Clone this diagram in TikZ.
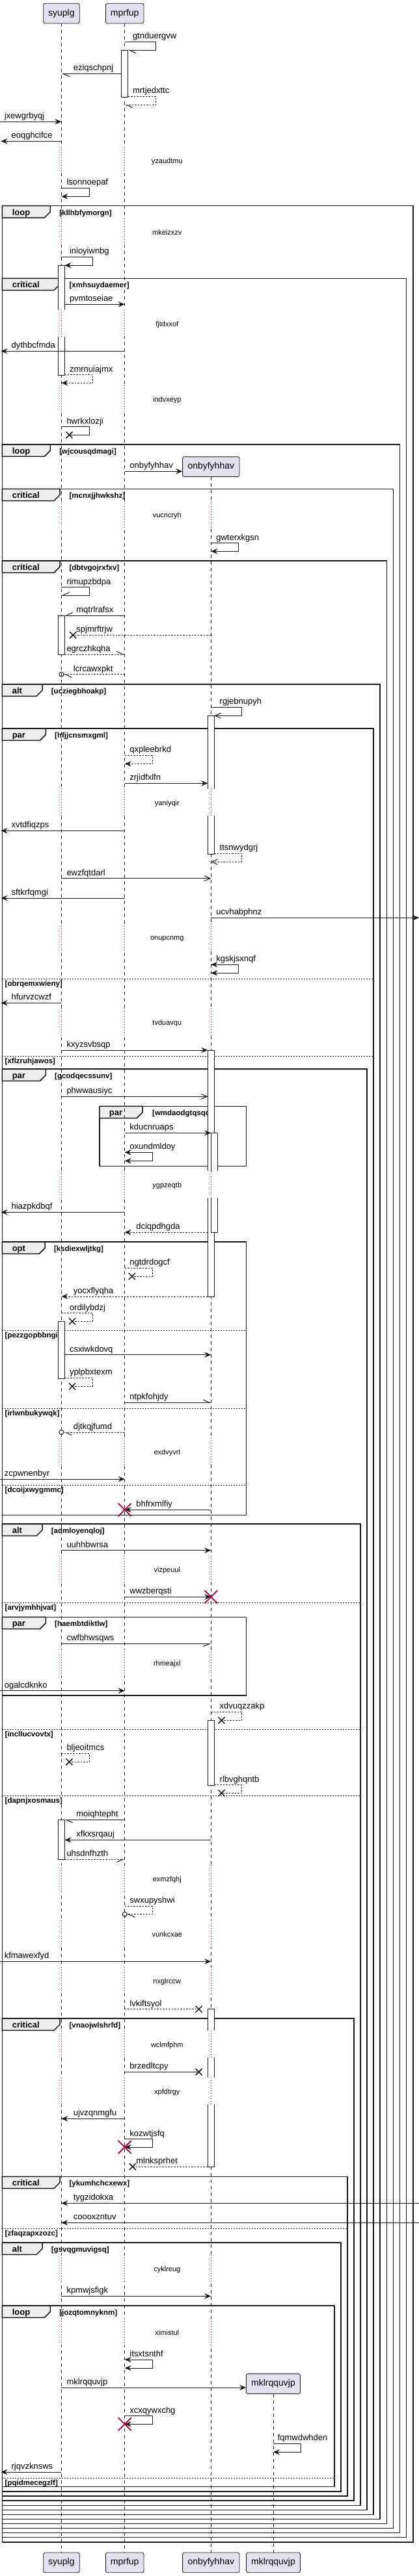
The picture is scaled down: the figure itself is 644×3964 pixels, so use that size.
\documentclass[tikz,border=0pt]{standalone}
\usepackage{fontspec}
\setmainfont{Liberation Sans}
\usetikzlibrary{arrows.meta}
\definecolor{dark}{HTML}{181818}
\definecolor{partfill}{HTML}{E2E2F0}
\definecolor{tabfill}{HTML}{EEEEEE}
\definecolor{delaycol}{HTML}{A80036}
\definecolor{killcol}{HTML}{A80036}
\begin{document}
\begin{tikzpicture}[x=1bp,y=-1bp,line join=miter,
  actor/.style={draw=dark,fill=partfill,line width=0.8bp,rounded corners=2.5bp,minimum height=30.7bp,inner sep=0pt,font=\fontsize{14bp}{16bp}\selectfont},
  lifeline/.style={draw=dark,line width=0.6bp,dash pattern=on 5bp off 5bp},
  delayline/.style={draw=delaycol,line width=0.9bp,dash pattern=on 1bp off 3bp},
  delaytxt/.style={anchor=base,inner sep=0pt,font=\fontsize{11bp}{13bp}\selectfont},
  grp/.style={draw=dark,line width=1.5bp},
  grptab/.style={draw=dark,fill=tabfill,line width=1.5bp},
  grpname/.style={anchor=base west,inner sep=0pt,font=\bfseries\fontsize{13bp}{15bp}\selectfont},
  grpcond/.style={anchor=base west,inner sep=0pt,font=\bfseries\fontsize{11.5bp}{13bp}\selectfont},
  sep/.style={draw=dark,line width=1bp,dash pattern=on 2bp off 2bp},
  act/.style={draw=dark,fill=white,line width=1bp},
  msg/.style={draw=dark,line width=1bp},
  ret/.style={msg,dash pattern=on 2.5bp off 2bp},
  lbl/.style={anchor=base west,inner sep=0pt,font=\fontsize{13bp}{15bp}\selectfont},
  tipfill/.style={-{Stealth[length=10bp,width=8.5bp,inset=3.5bp]}},
  tipopen/.style={-{Straight Barb[length=9bp,width=8bp]}},
  tipboth/.style={arrows={Stealth[length=10bp,width=8.5bp,inset=3.5bp]-Stealth[length=10bp,width=8.5bp,inset=3.5bp]}},
  harpA/.style={-{Straight Barb[harpoon,length=10bp,width=9bp]}},
  harpB/.style={-{Straight Barb[harpoon,swap,length=10bp,width=9bp]}},
  cross/.style={draw=dark,line width=1.5bp},
  destroy/.style={draw=killcol,line width=1.8bp},
]
\useasboundingbox (0,0) rectangle (644,3964);
%% participants
\node (p_syuplg) at (94.4,20.7) [actor,minimum width=55.5bp] {syuplg};
\node (p_mprfup) at (191.7,20.7) [actor,minimum width=58.4bp] {mprfup};
\node (p_onby) at (324.3,718.2) [actor,minimum width=87.4bp] {onbyfyhhav};
\node (p_mklr) at (420,3668.2) [actor,minimum width=82.9bp] {mklrqquvjp};
\node (q_syuplg) at (94.4,3943.3) [actor,minimum width=55.5bp] {syuplg};
\node (q_mprfup) at (191.7,3943.3) [actor,minimum width=58.4bp] {mprfup};
\node (q_onby) at (324.3,3943.3) [actor,minimum width=87.4bp] {onbyfyhhav};
\node (q_mklr) at (420,3943.3) [actor,minimum width=82.9bp] {mklrqquvjp};
\coordinate (s_r) at (99.4,0);
\coordinate (s_c) at (97.9,0);
\coordinate (m_l) at (186.7,0);
\coordinate (m_r) at (196.7,0);
\coordinate (m_c) at (195.2,0);
\coordinate (o_l) at (319.3,0);
\coordinate (o_r) at (329.3,0);
\coordinate (edge_w0) at (0,0);
\coordinate (edge_w) at (1.5,0);
\coordinate (edge_e) at (644,0);
%% groups
\draw [grp] (3.3,316.7) rectangle (634.9,3911.7);
\draw [grptab] (3.3,316.7) -- (77.4,316.7) -- (77.4,326) -- (68.4,335) -- (3.3,335) -- cycle;
\node (g_kllhbfymorgn) at (18.6,331) [grpname] {loop};
\node (c_kllhbfymorgn) at (91.1,331) [grpcond] {[kllhbfymorgn]};
\draw [grp] (3.3,428.3) rectangle (624.5,3904.3);
\draw [grptab] (3.3,428.3) -- (92,428.3) -- (92,437.6) -- (83,446.6) -- (3.3,446.6) -- cycle;
\node (g_xmhsuydaemer) at (18.6,442.6) [grpname] {critical};
\node (c_xmhsuydaemer) at (106.4,442.6) [grpcond] {[xmhsuydaemer]};
\draw [grp] (3.3,684) rectangle (614.6,3897.3);
\draw [grptab] (3.3,684) -- (77.4,684) -- (77.4,693.3) -- (68.4,702.3) -- (3.3,702.3) -- cycle;
\node (g_wjcousqdmagi) at (18.6,698.3) [grpname] {loop};
\node (c_wjcousqdmagi) at (91.1,698.3) [grpcond] {[wjcousqdmagi]};
\draw [grp] (3.3,752.3) rectangle (604.6,3890.3);
\draw [grptab] (3.3,752.3) -- (92,752.3) -- (92,761.6) -- (83,770.6) -- (3.3,770.6) -- cycle;
\node (g_mcnxjjhwkshz) at (18.6,766.6) [grpname] {critical};
\node (c_mcnxjjhwkshz) at (106.4,766.6) [grpcond] {[mcnxjjhwkshz]};
\draw [grp] (3.3,863) rectangle (594.3,3883.3);
\draw [grptab] (3.3,863) -- (92,863) -- (92,872.3) -- (83,881.3) -- (3.3,881.3) -- cycle;
\node (g_dbtvgojrxfxv) at (18.6,877.3) [grpname] {critical};
\node (c_dbtvgojrxfxv) at (106.4,877.3) [grpcond] {[dbtvgojrxfxv]};
\draw [grp] (3.3,1053) rectangle (584,3876.3);
\draw [grptab] (3.3,1053) -- (65,1053) -- (65,1062.3) -- (56,1071.3) -- (3.3,1071.3) -- cycle;
\node (g_ucziegbhoakp) at (18.6,1067.3) [grpname] {alt};
\node (c_ucziegbhoakp) at (78.7,1067.3) [grpcond] {[ucziegbhoakp]};
\draw [grp] (3.3,1121) rectangle (574,3869.3);
\draw [grptab] (3.3,1121) -- (70.4,1121) -- (70.4,1130.3) -- (61.4,1139.3) -- (3.3,1139.3) -- cycle;
\node (g_hfjjcnsmxgml) at (18.6,1135.3) [grpname] {par};
\node (c_hfjjcnsmxgml) at (84,1135.3) [grpcond] {[hfjjcnsmxgml]};
\draw [sep] (3.3,1506.3) -- (574,1506.3);
\node (e_obrqemxwieny) at (7.5,1517.3) [grpcond] {[obrqemxwieny]};
\draw [sep] (3.3,1625) -- (574,1625);
\node (e_xflzruhjawos) at (7.5,1636) [grpcond] {[xflzruhjawos]};
\draw [grp] (3.3,1645) rectangle (564,3862.3);
\draw [grptab] (3.3,1645) -- (70.4,1645) -- (70.4,1654.3) -- (61.4,1663.3) -- (3.3,1663.3) -- cycle;
\node (g_gcodqecssunv) at (18.6,1659.3) [grpname] {par};
\node (c_gcodqecssunv) at (84,1659.3) [grpcond] {[gcodqecssunv]};
\draw [grp] (152.8,1702.3) rectangle (378.5,1794.3);
\draw [grptab] (152.8,1702.3) -- (219.1,1702.3) -- (219.1,1711.6) -- (210.1,1720.6) -- (152.8,1720.6) -- cycle;
\node (g_wmdaodgtqsqq) at (167.7,1716.6) [grpname] {par};
\node (c_wmdaodgtqsqq) at (234,1716.6) [grpcond] {[wmdaodgtqsqq]};
\draw [grp] (3.3,1911) rectangle (378.5,2331.3);
\draw [grptab] (3.3,1911) -- (69.2,1911) -- (69.2,1920.3) -- (60.2,1929.3) -- (3.3,1929.3) -- cycle;
\node (g_ksdiexwljtkg) at (18.6,1925.3) [grpname] {opt};
\node (c_ksdiexwljtkg) at (82.8,1925.3) [grpcond] {[ksdiexwljtkg]};
\draw [sep] (3.3,2047.3) -- (378.5,2047.3);
\node (e_pezzgopbbngi) at (7.5,2058.3) [grpcond] {[pezzgopbbngi]};
\draw [sep] (3.3,2167.3) -- (378.5,2167.3);
\node (e_irlwnbukywqk) at (7.5,2178.3) [grpcond] {[irlwnbukywqk]};
\draw [sep] (3.3,2285) -- (378.5,2285);
\node (e_dcoijxwygmmc) at (7.5,2296) [grpcond] {[dcoijxwygmmc]};
\draw [grp] (3.3,2345) rectangle (554.1,3855.3);
\draw [grptab] (3.3,2345) -- (65,2345) -- (65,2354.3) -- (56,2363.3) -- (3.3,2363.3) -- cycle;
\node (g_admloyenqloj) at (18.6,2359.3) [grpname] {alt};
\node (c_admloyenqloj) at (78.7,2359.3) [grpcond] {[admloyenqloj]};
\draw [sep] (3.3,2466) -- (554.1,2466);
\node (e_arvjymhhjvat) at (7.5,2477) [grpcond] {[arvjymhhjvat]};
\draw [grp] (3.3,2488.3) rectangle (378.5,2609);
\draw [grptab] (3.3,2488.3) -- (70.4,2488.3) -- (70.4,2497.6) -- (61.4,2506.6) -- (3.3,2506.6) -- cycle;
\node (g_haembtdiktlw) at (18.6,2502.6) [grpname] {par};
\node (c_haembtdiktlw) at (84,2502.6) [grpcond] {[haembtdiktlw]};
\draw [sep] (3.3,2661.3) -- (554.1,2661.3);
\node (e_incllucvovtx) at (7.5,2672.3) [grpcond] {[incllucvovtx]};
\draw [sep] (3.3,2763.3) -- (554.1,2763.3);
\node (e_dapnjxosmaus) at (7.5,2774.3) [grpcond] {[dapnjxosmaus]};
\draw [grp] (3.3,3106) rectangle (543.8,3848);
\draw [grptab] (3.3,3106) -- (92,3106) -- (92,3115.3) -- (83,3124.3) -- (3.3,3124.3) -- cycle;
\node (g_vnaojwlshrfd) at (18.6,3120.3) [grpname] {critical};
\node (c_vnaojwlshrfd) at (106.4,3120.3) [grpcond] {[vnaojwlshrfd]};
\draw [grp] (3.3,3349.3) rectangle (533.8,3841);
\draw [grptab] (3.3,3349.3) -- (92,3349.3) -- (92,3358.6) -- (83,3367.6) -- (3.3,3367.6) -- cycle;
\node (g_ykumhchcxewx) at (18.6,3363.6) [grpname] {critical};
\node (c_ykumhchcxewx) at (106.4,3363.6) [grpcond] {[ykumhchcxewx]};
\draw [sep] (3.3,3429) -- (533.8,3429);
\node (e_zfaqzapxzozc) at (7.5,3440) [grpcond] {[zfaqzapxzozc]};
\draw [grp] (3.3,3451) rectangle (523.9,3834);
\draw [grptab] (3.3,3451) -- (65,3451) -- (65,3460.3) -- (56,3469.3) -- (3.3,3469.3) -- cycle;
\node (g_gsvqgmuvigsq) at (18.6,3465.3) [grpname] {alt};
\node (c_gsvqgmuvigsq) at (78.7,3465.3) [grpcond] {[gsvqgmuvigsq]};
\draw [grp] (3.3,3548) rectangle (514,3826.7);
\draw [grptab] (3.3,3548) -- (77.4,3548) -- (77.4,3557.3) -- (68.4,3566.3) -- (3.3,3566.3) -- cycle;
\node (g_jozqtomnyknm) at (18.6,3562.3) [grpname] {loop};
\node (c_jozqtomnyknm) at (91.1,3562.3) [grpcond] {[jozqtomnyknm]};
\draw [sep] (3.3,3813.3) -- (514,3813.3);
\node (e_pqidmecegzlf) at (7.5,3824.3) [grpcond] {[pqidmecegzlf]};
%% lifelines
\draw [lifeline] (p_syuplg) -- (q_syuplg);
\draw [lifeline] (p_mprfup) -- (q_mprfup);
\draw [lifeline] (p_onby) -- (q_onby);
\draw [lifeline] (p_mklr) -- (q_mklr);
%% activations
\draw [act] (186.7,77.3) rectangle (196.7,149.3);
\draw [act] (89.4,408.3) rectangle (99.4,577.3);
\draw [act] (89.4,947) rectangle (99.4,1007);
\draw [act] (319.3,1101.3) rectangle (329.3,1314);
\draw [act] (319.3,1616) rectangle (329.3,1995);
\draw [act] (324.3,1743.3) rectangle (334.3,1896.3);
\draw [act] (89.4,2033.3) rectangle (99.4,2121.3);
\draw [act] (319.3,2647.3) rectangle (329.3,2747.3);
\draw [act] (89.4,2800.3) rectangle (99.4,2861);
\draw [act] (319.3,3091.7) rectangle (329.3,3334);
%% delays
\fill [white] (87,225.8) rectangle (102,267.3) (184,225.8) rectangle (199,267.3);
\draw [delayline] (p_syuplg |- 0,225.8) -- (p_syuplg |- 0,267.3) (p_mprfup |- 0,225.8) -- (p_mprfup |- 0,267.3);
\node (d_yzaudtmu) at (256.8,251.3) [delaytxt] {yzaudtmu};
\fill [white] (87,335.8) rectangle (102,377.3) (184,335.8) rectangle (199,377.3);
\draw [delayline] (p_syuplg |- 0,335.8) -- (p_syuplg |- 0,377.3) (p_mprfup |- 0,335.8) -- (p_mprfup |- 0,377.3);
\node (d_mkeizxzv) at (256.8,361.3) [delaytxt] {mkeizxzv};
\fill [white] (87,476.5) rectangle (102,518) (184,476.5) rectangle (199,518);
\draw [delayline] (p_syuplg |- 0,476.5) -- (p_syuplg |- 0,518) (p_mprfup |- 0,476.5) -- (p_mprfup |- 0,518);
\node (d_fjtdxxof) at (256.8,502) [delaytxt] {fjtdxxof};
\fill [white] (87,592.8) rectangle (102,634.3) (184,592.8) rectangle (199,634.3);
\draw [delayline] (p_syuplg |- 0,592.8) -- (p_syuplg |- 0,634.3) (p_mprfup |- 0,592.8) -- (p_mprfup |- 0,634.3);
\node (d_indvxeyp) at (256.8,618.3) [delaytxt] {indvxeyp};
\fill [white] (87,770.8) rectangle (102,812.3) (184,770.8) rectangle (199,812.3) (316,770.8) rectangle (337,812.3);
\draw [delayline] (p_syuplg |- 0,770.8) -- (p_syuplg |- 0,812.3) (p_mprfup |- 0,770.8) -- (p_mprfup |- 0,812.3) (p_onby |- 0,770.8) -- (p_onby |- 0,812.3);
\node (d_vucncryh) at (256.8,796.3) [delaytxt] {vucncryh};
\fill [white] (87,1213.8) rectangle (102,1255.3) (184,1213.8) rectangle (199,1255.3) (316,1213.8) rectangle (337,1255.3);
\draw [delayline] (p_syuplg |- 0,1213.8) -- (p_syuplg |- 0,1255.3) (p_mprfup |- 0,1213.8) -- (p_mprfup |- 0,1255.3) (p_onby |- 0,1213.8) -- (p_onby |- 0,1255.3);
\node (d_yaniyqir) at (256.8,1239.3) [delaytxt] {yaniyqir};
\fill [white] (87,1420.8) rectangle (102,1462.3) (184,1420.8) rectangle (199,1462.3) (316,1420.8) rectangle (337,1462.3);
\draw [delayline] (p_syuplg |- 0,1420.8) -- (p_syuplg |- 0,1462.3) (p_mprfup |- 0,1420.8) -- (p_mprfup |- 0,1462.3) (p_onby |- 0,1420.8) -- (p_onby |- 0,1462.3);
\node (d_onupcnmg) at (256.8,1446.3) [delaytxt] {onupcnmg};
\fill [white] (87,1551.8) rectangle (102,1593.3) (184,1551.8) rectangle (199,1593.3) (316,1551.8) rectangle (337,1593.3);
\draw [delayline] (p_syuplg |- 0,1551.8) -- (p_syuplg |- 0,1593.3) (p_mprfup |- 0,1551.8) -- (p_mprfup |- 0,1593.3) (p_onby |- 0,1551.8) -- (p_onby |- 0,1593.3);
\node (d_tvduavqu) at (256.8,1577.3) [delaytxt] {tvduavqu};
\fill [white] (87,1801.8) rectangle (102,1843.3) (184,1801.8) rectangle (199,1843.3) (316,1801.8) rectangle (337,1843.3);
\draw [delayline] (p_syuplg |- 0,1801.8) -- (p_syuplg |- 0,1843.3) (p_mprfup |- 0,1801.8) -- (p_mprfup |- 0,1843.3) (p_onby |- 0,1801.8) -- (p_onby |- 0,1843.3);
\node (d_ygpzeqtb) at (256.8,1827.3) [delaytxt] {ygpzeqtb};
\fill [white] (87,2212.8) rectangle (102,2254.3) (184,2212.8) rectangle (199,2254.3) (316,2212.8) rectangle (337,2254.3);
\draw [delayline] (p_syuplg |- 0,2212.8) -- (p_syuplg |- 0,2254.3) (p_mprfup |- 0,2212.8) -- (p_mprfup |- 0,2254.3) (p_onby |- 0,2212.8) -- (p_onby |- 0,2254.3);
\node (d_exdvyvrl) at (256.8,2238.3) [delaytxt] {exdvyvrl};
\fill [white] (87,2393.8) rectangle (102,2435.3) (184,2393.8) rectangle (199,2435.3) (316,2393.8) rectangle (337,2435.3);
\draw [delayline] (p_syuplg |- 0,2393.8) -- (p_syuplg |- 0,2435.3) (p_mprfup |- 0,2393.8) -- (p_mprfup |- 0,2435.3) (p_onby |- 0,2393.8) -- (p_onby |- 0,2435.3);
\node (d_vizpeuul) at (256.8,2419.3) [delaytxt] {vizpeuul};
\fill [white] (87,2537.8) rectangle (102,2579.3) (184,2537.8) rectangle (199,2579.3) (316,2537.8) rectangle (337,2579.3);
\draw [delayline] (p_syuplg |- 0,2537.8) -- (p_syuplg |- 0,2579.3) (p_mprfup |- 0,2537.8) -- (p_mprfup |- 0,2579.3) (p_onby |- 0,2537.8) -- (p_onby |- 0,2579.3);
\node (d_rhmeajxl) at (256.8,2563.3) [delaytxt] {rhmeajxl};
\fill [white] (87,2869.8) rectangle (102,2911.3) (184,2869.8) rectangle (199,2911.3) (316,2869.8) rectangle (337,2911.3);
\draw [delayline] (p_syuplg |- 0,2869.8) -- (p_syuplg |- 0,2911.3) (p_mprfup |- 0,2869.8) -- (p_mprfup |- 0,2911.3) (p_onby |- 0,2869.8) -- (p_onby |- 0,2911.3);
\node (d_exmzfqhj) at (256.8,2895.3) [delaytxt] {exmzfqhj};
\fill [white] (87,2954.8) rectangle (102,2996.3) (184,2954.8) rectangle (199,2996.3) (316,2954.8) rectangle (337,2996.3);
\draw [delayline] (p_syuplg |- 0,2954.8) -- (p_syuplg |- 0,2996.3) (p_mprfup |- 0,2954.8) -- (p_mprfup |- 0,2996.3) (p_onby |- 0,2954.8) -- (p_onby |- 0,2996.3);
\node (d_vunkcxae) at (256.8,2980.3) [delaytxt] {vunkcxae};
\fill [white] (87,3026.8) rectangle (102,3068.3) (184,3026.8) rectangle (199,3068.3) (316,3026.8) rectangle (337,3068.3);
\draw [delayline] (p_syuplg |- 0,3026.8) -- (p_syuplg |- 0,3068.3) (p_mprfup |- 0,3026.8) -- (p_mprfup |- 0,3068.3) (p_onby |- 0,3026.8) -- (p_onby |- 0,3068.3);
\node (d_nxglrccw) at (256.8,3052.3) [delaytxt] {nxglrccw};
\fill [white] (87,3124.5) rectangle (102,3166) (184,3124.5) rectangle (199,3166) (316,3124.5) rectangle (337,3166);
\draw [delayline] (p_syuplg |- 0,3124.5) -- (p_syuplg |- 0,3166) (p_mprfup |- 0,3124.5) -- (p_mprfup |- 0,3166) (p_onby |- 0,3124.5) -- (p_onby |- 0,3166);
\node (d_wclmfphm) at (256.8,3150) [delaytxt] {wclmfphm};
\fill [white] (87,3196.8) rectangle (102,3238.3) (184,3196.8) rectangle (199,3238.3) (316,3196.8) rectangle (337,3238.3);
\draw [delayline] (p_syuplg |- 0,3196.8) -- (p_syuplg |- 0,3238.3) (p_mprfup |- 0,3196.8) -- (p_mprfup |- 0,3238.3) (p_onby |- 0,3196.8) -- (p_onby |- 0,3238.3);
\node (d_xpfdtrgy) at (256.8,3222.3) [delaytxt] {xpfdtrgy};
\fill [white] (87,3469.8) rectangle (102,3511.3) (184,3469.8) rectangle (199,3511.3) (316,3469.8) rectangle (337,3511.3);
\draw [delayline] (p_syuplg |- 0,3469.8) -- (p_syuplg |- 0,3511.3) (p_mprfup |- 0,3469.8) -- (p_mprfup |- 0,3511.3) (p_onby |- 0,3469.8) -- (p_onby |- 0,3511.3);
\node (d_cyklreug) at (256.8,3495.3) [delaytxt] {cyklreug};
\fill [white] (87,3567.5) rectangle (102,3609) (184,3567.5) rectangle (199,3609) (316,3567.5) rectangle (337,3609);
\draw [delayline] (p_syuplg |- 0,3567.5) -- (p_syuplg |- 0,3609) (p_mprfup |- 0,3567.5) -- (p_mprfup |- 0,3609) (p_onby |- 0,3567.5) -- (p_onby |- 0,3609);
\node (d_ximistul) at (256.8,3593) [delaytxt] {ximistul};
%% messages
\draw [msg,harpA] (p_mprfup |- 0,64.3) -- (239.4,64.3) -- (239.4,77.3) -- (m_r |- 0,77.3);
\node (m_gtnduergvw) at (203.8,59.8) [lbl] {gtnduergvw};
\draw [msg,harpA] (m_l |- 0,113.3) -- (p_syuplg |- 0,113.3);
\node (m_eziqschpnj) at (112.6,108.8) [lbl] {eziqschpnj};
\draw [ret,harpA] (m_r |- 0,148.3) -- (239.4,148.3) -- (239.4,161.3) -- (p_mprfup |- 0,161.3);
\node (m_mrtjedxttc) at (203.8,143.8) [lbl] {mrtjedxttc};
\draw [msg,tipfill] (edge_w0 |- 0,187.3) -- (p_syuplg |- 0,187.3);
\node (m_jxewgrbyqj) at (6.6,182.8) [lbl] {jxewgrbyqj};
\draw [msg,tipfill] (p_syuplg |- 0,217.3) -- (edge_w |- 0,217.3);
\node (m_eoqghcifce) at (17.4,212.8) [lbl] {eoqghcifce};
\draw [msg,tipfill] (p_syuplg |- 0,289.3) -- (137.5,289.3) -- (137.5,302.3) -- (p_syuplg |- 0,302.3);
\node (m_lsonnoepaf) at (102.3,284.8) [lbl] {lsonnoepaf};
\draw [msg,tipfill] (p_syuplg |- 0,395.3) -- (142.5,395.3) -- (142.5,408.3) -- (s_r |- 0,408.3);
\node (m_inioyiwnbg) at (106.8,390.8) [lbl] {inioyiwnbg};
\draw [msg,tipfill] (s_r |- 0,468.3) -- (p_mprfup |- 0,468.3);
\node (m_pvmtoseiae) at (106.8,463.8) [lbl] {pvmtoseiae};
\draw [msg,tipfill] (p_mprfup |- 0,540.3) -- (edge_w |- 0,540.3);
\node (m_dythbcfmda) at (17.4,535.8) [lbl] {dythbcfmda};
\draw [ret,tipfill] (s_r |- 0,576.7) -- (142.5,576.7) -- (142.5,589.3) -- (p_syuplg |- 0,589.3);
\node (m_zmrnuiajmx) at (106.8,572.2) [lbl] {zmrnuiajmx};
\draw [msg] (p_syuplg |- 0,656.7) -- (137.5,656.7) -- (137.5,669.3) -- (106.4,669.3);
\draw [cross] (106.4,669.3) +(-5,-5) -- +(5,5) +(-5,5) -- +(5,-5);
\node (m_hwrkxlozji) at (102.3,652.2) [lbl] {hwrkxlozji};
\draw [msg,tipfill] (p_mprfup |- 0,725.3) -- (p_onby.west |- 0,725.3);
\node (m_onbyfyhhav) at (199.2,720.8) [lbl] {onbyfyhhav};
\draw [msg,tipfill] (p_onby |- 0,835.7) -- (366.5,835.7) -- (366.5,848.3) -- (p_onby |- 0,848.3);
\node (m_gwterxkgsn) at (332.1,831.2) [lbl] {gwterxkgsn};
\draw [msg,harpB] (p_syuplg |- 0,903.7) -- (137.5,903.7) -- (137.5,916) -- (p_syuplg |- 0,916);
\node (m_rimupzbdpa) at (102.3,899.2) [lbl] {rimupzbdpa};
\draw [msg,harpB] (p_mprfup |- 0,947) -- (s_r |- 0,947);
\node (m_mqtrlrafsx) at (117.2,942.5) [lbl] {mqtrlrafsx};
\draw [ret] (p_onby |- 0,977.3) -- (112.2,977.3);
\draw [cross] (112.2,977.3) +(-5,-5) -- +(5,5) +(-5,5) -- +(5,-5);
\node (m_spjmrftrjw) at (117.2,972.8) [lbl] {spjmrftrjw};
\draw [ret,harpA] (s_r |- 0,1007) -- (p_mprfup |- 0,1007);
\node (m_egrczhkqha) at (102.3,1002.5) [lbl] {egrczhkqha};
\draw [ret,harpA] (p_mprfup |- 0,1037.7) -- (s_c |- 0,1037.7);
\draw [msg] (p_syuplg |- 0,1037.7) circle [radius=3.5bp];
\node (m_lcrcawxpkt) at (112.6,1033.2) [lbl] {lcrcawxpkt};
\draw [msg,tipopen] (p_onby |- 0,1088.3) -- (371.5,1088.3) -- (371.5,1101.3) -- (o_r |- 0,1101.3);
\node (m_rgjebnupyh) at (337.5,1083.8) [lbl] {rgjebnupyh};
\draw [ret,tipfill] (p_mprfup |- 0,1162.3) -- (234.4,1162.3) -- (234.4,1175.3) -- (p_mprfup |- 0,1175.3);
\node (m_qxpleebrkd) at (199.2,1157.8) [lbl] {qxpleebrkd};
\draw [msg,tipfill] (p_mprfup |- 0,1205.3) -- (o_l |- 0,1205.3);
\node (m_zrjidfxlfn) at (199.2,1200.8) [lbl] {zrjidfxlfn};
\draw [msg,tipfill] (p_mprfup |- 0,1278.3) -- (edge_w |- 0,1278.3);
\node (m_xvtdfiqzps) at (17.4,1273.8) [lbl] {xvtdfiqzps};
\draw [ret,tipopen] (o_r |- 0,1313.3) -- (371.5,1313.3) -- (371.5,1326.3) -- (p_onby |- 0,1326.3);
\node (m_ttsnwydgrj) at (337.5,1308.8) [lbl] {ttsnwydgrj};
\draw [msg,tipopen] (p_syuplg |- 0,1351.7) -- (p_onby |- 0,1351.7);
\node (m_ewzfqtdarl) at (102.3,1347.2) [lbl] {ewzfqtdarl};
\draw [msg,tipfill] (p_mprfup |- 0,1382) -- (edge_w |- 0,1382);
\node (m_sftkrfqmgi) at (17.4,1377.5) [lbl] {sftkrfqmgi};
\draw [msg,tipfill] (p_onby |- 0,1412.3) -- (edge_e |- 0,1412.3);
\node (m_ucvhabphnz) at (332.1,1407.8) [lbl] {ucvhabphnz};
\draw [msg,tipboth] (p_onby |- 0,1484.3) -- (366.5,1484.3) -- (366.5,1497.3) -- (p_onby |- 0,1497.3);
\node (m_kgskjsxnqf) at (332.1,1479.8) [lbl] {kgskjsxnqf};
\draw [msg,tipfill] (p_syuplg |- 0,1543.3) -- (edge_w |- 0,1543.3);
\node (m_hfurvzcwzf) at (17.4,1538.8) [lbl] {hfurvzcwzf};
\draw [msg,tipfill] (p_syuplg |- 0,1616) -- (o_l |- 0,1616);
\node (m_kxyzsvbsqp) at (102.3,1611.5) [lbl] {kxyzsvbsqp};
\draw [msg,tipopen] (p_syuplg |- 0,1687.3) -- (o_l |- 0,1687.3);
\node (m_phwwausiyc) at (102.3,1682.8) [lbl] {phwwausiyc};
\draw [msg,tipfill] (p_mprfup |- 0,1743.3) -- (p_onby |- 0,1743.3);
\node (m_kducnruaps) at (199.2,1738.8) [lbl] {kducnruaps};
\draw [msg,tipboth] (p_mprfup |- 0,1773.3) -- (234.4,1773.3) -- (234.4,1786.3) -- (p_mprfup |- 0,1786.3);
\node (m_oxundmldoy) at (199.2,1768.8) [lbl] {oxundmldoy};
\draw [msg,tipfill] (p_mprfup |- 0,1865.3) -- (edge_w |- 0,1865.3);
\node (m_hiazpkdbqf) at (17.4,1860.8) [lbl] {hiazpkdbqf};
\draw [ret,tipfill] (o_l |- 0,1896.3) -- (p_mprfup |- 0,1896.3);
\node (m_dciqpdhgda) at (209.1,1891.8) [lbl] {dciqpdhgda};
\draw [ret] (p_mprfup |- 0,1951.3) -- (234.4,1951.3) -- (234.4,1964) -- (202.9,1964);
\draw [cross] (202.9,1964) +(-5,-5) -- +(5,5) +(-5,5) -- +(5,-5);
\node (m_ngtdrdogcf) at (199.2,1946.8) [lbl] {ngtdrdogcf};
\draw [ret,tipfill] (o_l |- 0,1995) -- (p_syuplg |- 0,1995);
\node (m_yocxflyqha) at (112.6,1990.5) [lbl] {yocxflyqha};
\draw [ret] (p_syuplg |- 0,2020.7) -- (142.5,2020.7) -- (142.5,2033.3) -- (111,2033.3);
\draw [cross] (111,2033.3) +(-5,-5) -- +(5,5) +(-5,5) -- +(5,-5);
\node (m_ordilybdzj) at (106.8,2016.2) [lbl] {ordilybdzj};
\draw [msg,tipfill] (s_r |- 0,2084.7) -- (p_onby |- 0,2084.7);
\node (m_csxiwkdovq) at (106.8,2080.2) [lbl] {csxiwkdovq};
\draw [ret] (s_r |- 0,2120.3) -- (142.5,2120.3) -- (142.5,2133.3) -- (111,2133.3);
\draw [cross] (111,2133.3) +(-5,-5) -- +(5,5) +(-5,5) -- +(5,-5);
\node (m_yplpbxtexm) at (106.8,2115.8) [lbl] {yplpbxtexm};
\draw [msg,harpA] (p_mprfup |- 0,2158.3) -- (p_onby |- 0,2158.3);
\node (m_ntpkfohjdy) at (199.2,2153.8) [lbl] {ntpkfohjdy};
\draw [ret,harpA] (p_mprfup |- 0,2204) -- (s_c |- 0,2204);
\draw [msg] (p_syuplg |- 0,2204) circle [radius=3.5bp];
\node (m_djtkqjfumd) at (112.6,2199.5) [lbl] {djtkqjfumd};
\draw [msg,tipfill] (edge_w0 |- 0,2276) -- (p_mprfup |- 0,2276);
\node (m_zcpwnenbyr) at (6.6,2271.5) [lbl] {zcpwnenbyr};
\draw [msg,tipfill] (p_onby |- 0,2323.3) -- (p_mprfup |- 0,2323.3);
\draw [destroy] (p_mprfup |- 0,2323.3) +(-10,-10) -- +(10,10) +(-10,10) -- +(10,-10);
\node (m_bhfrxmlfiy) at (209.1,2318.8) [lbl] {bhfrxmlfiy};
\draw [msg,tipfill] (p_syuplg |- 0,2385.7) -- (p_onby |- 0,2385.7);
\node (m_uuhhbwrsa) at (102.3,2381.2) [lbl] {uuhhbwrsa};
\draw [msg,tipfill] (p_mprfup |- 0,2457.3) -- (p_onby |- 0,2457.3);
\draw [destroy] (p_onby |- 0,2457.3) +(-10,-10) -- +(10,10) +(-10,10) -- +(10,-10);
\node (m_wwzberqsti) at (199.2,2452.8) [lbl] {wwzberqsti};
\draw [msg,harpB] (p_syuplg |- 0,2529.3) -- (p_onby |- 0,2529.3);
\node (m_cwfbhwsqws) at (102.3,2524.8) [lbl] {cwfbhwsqws};
\draw [msg,tipfill] (edge_w0 |- 0,2601.7) -- (p_mprfup |- 0,2601.7);
\node (m_ogalcdknko) at (6.6,2597.2) [lbl] {ogalcdknko};
\draw [ret] (p_onby |- 0,2634) -- (371.5,2634) -- (371.5,2647.3) -- (340.4,2647.3);
\draw [cross] (340.4,2647.3) +(-5,-5) -- +(5,5) +(-5,5) -- +(5,-5);
\node (m_xdvuqzzakp) at (337.5,2629.5) [lbl] {xdvuqzzakp};
\draw [ret] (p_syuplg |- 0,2698.3) -- (137.5,2698.3) -- (137.5,2711.3) -- (106.4,2711.3);
\draw [cross] (106.4,2711.3) +(-5,-5) -- +(5,5) +(-5,5) -- +(5,-5);
\node (m_bljeoitmcs) at (102.3,2693.8) [lbl] {bljeoitmcs};
\draw [ret] (o_r |- 0,2746.7) -- (371.5,2746.7) -- (371.5,2759.3) -- (340.4,2759.3);
\draw [cross] (340.4,2759.3) +(-5,-5) -- +(5,5) +(-5,5) -- +(5,-5);
\node (m_rlbvghqntb) at (337.5,2742.2) [lbl] {rlbvghqntb};
\draw [msg,harpA] (p_mprfup |- 0,2800.3) -- (s_r |- 0,2800.3);
\node (m_moiqhtepht) at (117.2,2795.8) [lbl] {moiqhtepht};
\draw [msg,tipfill] (p_onby |- 0,2831.3) -- (s_r |- 0,2831.3);
\node (m_xfkxsrqauj) at (117.2,2826.8) [lbl] {xfkxsrqauj};
\draw [ret,harpB] (s_r |- 0,2861) -- (p_mprfup |- 0,2861);
\node (m_uhsdnfhzth) at (102.3,2856.5) [lbl] {uhsdnfhzth};
\draw [ret,harpA] (p_mprfup |- 0,2933.3) -- (234.4,2933.3) -- (234.4,2945.7) -- (m_c |- 0,2945.7);
\draw [msg] (p_mprfup |- 0,2945.7) circle [radius=3.5bp];
\node (m_swxupyshwi) at (199.2,2928.8) [lbl] {swxupyshwi};
\draw [msg,tipfill] (edge_w0 |- 0,3018.3) -- (p_onby |- 0,3018.3);
\node (m_kfmawexfyd) at (6.6,3013.8) [lbl] {kfmawexfyd};
\draw [ret] (p_mprfup |- 0,3091.7) -- (305.6,3091.7);
\draw [cross] (305.6,3091.7) +(-5,-5) -- +(5,5) +(-5,5) -- +(5,-5);
\node (m_lvkiftsyol) at (199.2,3087.2) [lbl] {lvkiftsyol};
\draw [msg] (p_mprfup |- 0,3188.3) -- (305.6,3188.3);
\draw [cross] (305.6,3188.3) +(-5,-5) -- +(5,5) +(-5,5) -- +(5,-5);
\node (m_brzedltcpy) at (199.2,3183.8) [lbl] {brzedltcpy};
\draw [msg,tipfill] (p_mprfup |- 0,3260.3) -- (p_syuplg |- 0,3260.3);
\node (m_ujvzqnmgfu) at (112.6,3255.8) [lbl] {ujvzqnmgfu};
\draw [msg,tipfill] (p_mprfup |- 0,3291.7) -- (234.4,3291.7) -- (234.4,3304) -- (p_mprfup |- 0,3304);
\draw [destroy] (p_mprfup |- 0,3304) +(-10,-10) -- +(10,10) +(-10,10) -- +(10,-10);
\node (m_kozwtjsfq) at (199.2,3287.2) [lbl] {kozwtjsfq};
\draw [ret] (o_l |- 0,3334) -- (203.8,3334);
\draw [cross] (203.8,3334) +(-5,-5) -- +(5,5) +(-5,5) -- +(5,-5);
\node (m_mlnksprhet) at (209.1,3329.5) [lbl] {mlnksprhet};
\draw [msg,tipfill] (edge_e |- 0,3390.3) -- (p_syuplg |- 0,3390.3);
\node (m_tygzidokxa) at (112.6,3385.8) [lbl] {tygzidokxa};
\draw [msg,tipfill] (edge_e |- 0,3420.3) -- (p_syuplg |- 0,3420.3);
\node (m_coooxzntuv) at (112.6,3415.8) [lbl] {coooxzntuv};
\draw [msg,tipfill] (p_syuplg |- 0,3533.3) -- (p_onby |- 0,3533.3);
\node (m_kpmwjsfigk) at (102.3,3528.8) [lbl] {kpmwjsfigk};
\draw [msg,tipboth] (p_mprfup |- 0,3631) -- (234.4,3631) -- (234.4,3644) -- (p_mprfup |- 0,3644);
\node (m_itsxtsnthf) at (199.2,3626.5) [lbl] {itsxtsnthf};
\draw [msg,tipfill] (p_syuplg |- 0,3674) -- (p_mklr.west |- 0,3674);
\node (m_mklrqquvjp) at (102.3,3669.5) [lbl] {mklrqquvjp};
\draw [msg,tipfill] (p_mprfup |- 0,3717.7) -- (234.4,3717.7) -- (234.4,3730.3) -- (p_mprfup |- 0,3730.3);
\draw [destroy] (p_mprfup |- 0,3730.3) +(-10,-10) -- +(10,10) +(-10,10) -- +(10,-10);
\node (m_xcxqywxchg) at (199.2,3713.2) [lbl] {xcxqywxchg};
\draw [msg,tipfill] (p_mklr |- 0,3760.3) -- (462.2,3760.3) -- (462.2,3773.3) -- (p_mklr |- 0,3773.3);
\node (m_fqmwdwhden) at (426.6,3755.8) [lbl] {fqmwdwhden};
\draw [msg,tipfill] (p_syuplg |- 0,3804) -- (edge_w |- 0,3804);
\node (m_rjqvzknsws) at (17.4,3799.5) [lbl] {rjqvzknsws};
%
\end{tikzpicture}
\end{document}
